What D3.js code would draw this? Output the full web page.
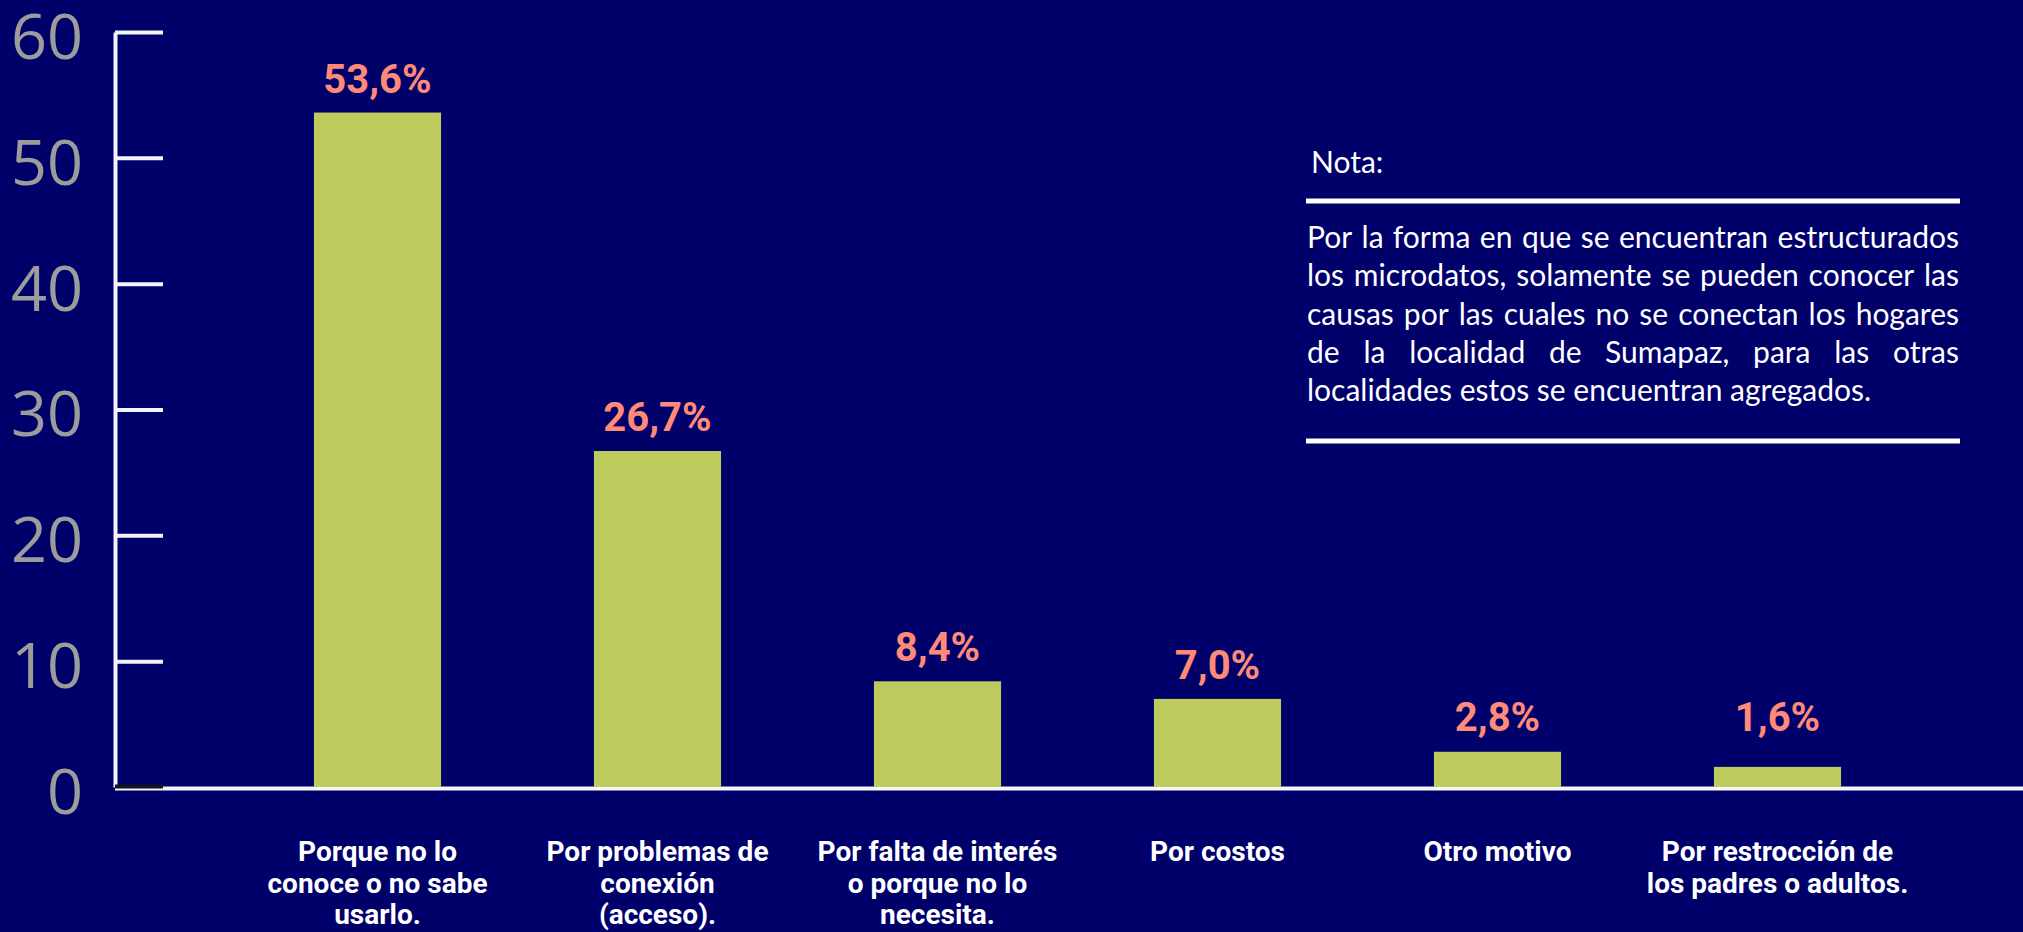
<!DOCTYPE html>
<html lang="es">
<head>
    <meta charset="UTF-8">
    <title>Causas de no conexión</title>
    <script src="https://d3js.org/d3.v7.min.js"></script>
    <style>
        body { margin: 0; background: #00006a; }
        svg { display: block; }
        .tick-label { font-family: "Open Sans", sans-serif; fill: #9c9c9c; }
        .cat { font-family: Roboto, sans-serif; font-weight: 700; fill: #ffffff; }
        .val { font-family: Roboto, sans-serif; font-weight: 700; fill: #ff8a78; }
        .note { font-family: Lato, sans-serif; fill: #ffffff; }
    </style>
</head>
<body>
<svg width="2023" height="932"></svg>
<script>
    // datos
    var categories = [
        "Porque no lo\nconoce o no sabe\nusarlo.",
        "Por problemas de\nconexión\n(acceso).",
        "Por falta de interés\no porque no lo\nnecesita.",
        "Por costos",
        "Otro motivo",
        "Por restrocción de\nlos padres o adultos."
    ];
    var values = [53.6, 26.7, 8.4, 7.0, 2.8, 1.6];
    var yTicks = [0, 10, 20, 30, 40, 50, 60];
    var noteTitle = "Nota:";
    var noteLines = [
        "Por la forma en que se encuentran estructurados",
        "los microdatos, solamente se pueden conocer las",
        "causas por las cuales no se conectan los hogares",
        "de la localidad de Sumapaz, para las otras",
        "localidades estos se encuentran agregados."
    ];

    var svg = d3.select("svg"),
        width = +svg.attr("width"),
        height = +svg.attr("height");

    svg.append("rect")
        .attr("width", width)
        .attr("height", height)
        .attr("fill", "#00006a");

    var axisX = 115;

    var xScale = d3.scaleBand()
        .domain(categories)
        .range([237.5, 1917.5])
        .paddingInner(0.546)
        .paddingOuter(0.273);

    var yScale = d3.scaleLinear()
        .domain([0, 60])
        .range([787, 32]);

    // linea base
    svg.append("line")
        .attr("x1", axisX)
        .attr("x2", width)
        .attr("y1", yScale(0) + 1.5)
        .attr("y2", yScale(0) + 1.5)
        .attr("stroke", "#f6f5fb")
        .attr("stroke-width", 4);

    // eje y
    var yAxis = svg.append("g")
        .attr("transform", "translate(" + axisX + ",0)")
        .call(d3.axisLeft(yScale)
            .tickValues(yTicks)
            .tickSizeInner(-48)
            .tickSizeOuter(0)
            .tickPadding(32)
            .tickFormat(d3.format("d")));

    yAxis.select(".domain")
        .attr("stroke", "#f4f3fa")
        .attr("stroke-width", 4);

    yAxis.selectAll(".tick line")
        .attr("stroke", function (d) { return d === 0 ? "#141420" : "#f4f3fa"; })
        .attr("stroke-width", 4)
        .attr("transform", function (d) { return d === 0 ? "translate(0,-1)" : null; });

    yAxis.selectAll(".tick text")
        .attr("class", "tick-label")
        .attr("font-size", 63)
        .attr("fill", "#9c9c9c")
        .attr("dy", "0.42em");

    yAxis.attr("font-family", null).attr("font-size", null);

    // barras
    svg.selectAll(".bar")
        .data(values)
        .enter().append("rect")
        .attr("class", "bar")
        .attr("x", function (d, i) { return xScale(categories[i]); })
        .attr("y", function (d) { return yScale(d); })
        .attr("width", xScale.bandwidth())
        .attr("height", function (d) { return yScale(0) - yScale(d); })
        .attr("fill", "#bccb5c");

    // etiquetas de valor
    var fmt = d3.format(".1f");
    svg.selectAll(".val")
        .data(values)
        .enter().append("text")
        .attr("class", "val")
        .attr("x", function (d, i) { return xScale(categories[i]) + xScale.bandwidth() / 2; })
        .attr("y", function (d) { return Math.min(yScale(d) - 20, yScale(0) - 56); })
        .attr("text-anchor", "middle")
        .attr("font-size", 40)
        .text(function (d) { return fmt(d).replace(".", ",") + "%"; });

    // etiquetas de categoria
    var cats = svg.selectAll(".cat")
        .data(categories)
        .enter().append("text")
        .attr("class", "cat")
        .attr("text-anchor", "middle")
        .attr("font-size", 28)
        .attr("y", 861);

    cats.each(function (c) {
        var t = d3.select(this);
        var cx = xScale(c) + xScale.bandwidth() / 2;
        c.split("\n").forEach(function (line, j) {
            t.append("tspan")
                .attr("x", cx)
                .attr("y", 861 + j * 31.5)
                .text(line);
        });
    });

    // nota
    var noteX = 1307, noteW = 652;
    var note = svg.append("g");

    note.append("text")
        .attr("class", "note")
        .attr("x", noteX + 4)
        .attr("y", 173)
        .attr("font-size", 30)
        .text(noteTitle);

    note.append("line")
        .attr("x1", noteX - 1).attr("x2", noteX + noteW + 1)
        .attr("y1", 201).attr("y2", 201)
        .attr("stroke", "#ffffff").attr("stroke-width", 5);

    note.append("line")
        .attr("x1", noteX - 1).attr("x2", noteX + noteW + 1)
        .attr("y1", 441).attr("y2", 441)
        .attr("stroke", "#ffffff").attr("stroke-width", 5);

    // texto justificado: se mide cada palabra y se reparte el espacio
    noteLines.forEach(function (line, i) {
        var y = 248 + i * 38.3;
        var words = line.split(" ");
        var t = note.append("text")
            .attr("class", "note")
            .attr("font-size", 30)
            .attr("y", y);
        if (i === noteLines.length - 1) {
            t.attr("x", noteX).text(line);
            return;
        }
        var spans = words.map(function (w) {
            return t.append("tspan").text(w);
        });
        var widths = spans.map(function (s) { return s.node().getComputedTextLength(); });
        var gap = (noteW - d3.sum(widths)) / (words.length - 1);
        var xx = noteX;
        spans.forEach(function (s, k) {
            s.attr("x", xx);
            xx += widths[k] + gap;
        });
    });
</script>
</body>
</html>
